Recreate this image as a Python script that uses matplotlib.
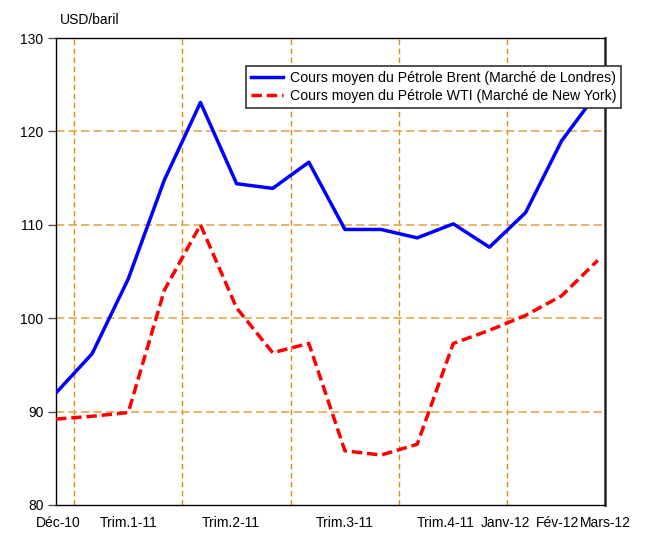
import matplotlib
matplotlib.use("Agg")
import matplotlib.pyplot as plt
from matplotlib.lines import Line2D

plt.rcParams['font.family'] = ['Liberation Sans', 'DejaVu Sans']

months = ["Déc-10", "Janv-11", "Fév-11", "Mars-11", "Avr-11", "Mai-11", "Juin-11", "Juil-11",
          "Août-11", "Sept-11", "Oct-11", "Nov-11", "Déc-11", "Janv-12", "Fév-12", "Mars-12"]
brent = [92.0, 96.2, 104.2, 114.8, 123.1, 114.4, 113.9, 116.7, 109.5, 109.5, 108.6, 110.1,
         107.6, 111.3, 119.0, 124.2]
wti = [89.2, 89.5, 89.9, 103.0, 110.0, 101.1, 96.3, 97.3, 85.8, 85.35, 86.5, 97.3,
       98.7, 100.3, 102.4, 106.2]
tick_labels = ["Déc-10", "Trim.1-11", "Trim.2-11", "Trim.3-11", "Trim.4-11", "Janv-12", "Fév-12", "Mars-12"]
tick_pos = [0.05, 2.0, 4.85, 8.0, 10.8, 12.45, 13.9, 15.2]
quarter_bounds = [0.5, 3.5, 6.5, 9.5, 12.5]
yticks = [80, 90, 100, 110, 120, 130]

fig = plt.figure(figsize=(6.58, 5.33), dpi=100)
ax = fig.add_axes([56/658, 1-505/533, (605-56)/658, (505-38)/533])

x = list(range(len(months)))
for q in quarter_bounds:
    ax.axvline(q, color='#E08A10', lw=1.0, dashes=(4, 2.5), zorder=1)
for yv in [90, 100, 110, 120]:
    ax.axhline(yv, color='#E2A850', lw=1.2, dashes=(5, 2.5), zorder=1)

ax.plot(x, brent, color='#0000FF', lw=2.5, zorder=3)
l2, = ax.plot(x, wti, color='#FF0000', lw=2.5, zorder=3)
l2.set_dashes((3.0, 1.4))

ax.set_xlim(0, 15)
ax.set_ylim(80, 130)
ax.set_yticks(yticks)
ax.set_yticklabels([str(v) for v in yticks], fontsize=10)
ax.set_xticks(tick_pos)
ax.set_xticklabels(tick_labels, fontsize=10)
ax.tick_params(axis='x', length=0, pad=8)
ax.tick_params(axis='y', length=6, width=1, color='#555555', pad=3)
for s in ['left', 'bottom', 'top']:
    ax.spines[s].set_linewidth(1.0)
    ax.spines[s].set_color('black')
ax.spines['right'].set_linewidth(1.8)
ax.spines['right'].set_color('#222222')

fig.text(60/658, 1-20/533, "USD/baril", fontsize=10, va='center', ha='left')

h1 = Line2D([], [], color='#0000FF', lw=2.5)
h2 = Line2D([], [], color='#FF0000', lw=2.5, dashes=(3.0, 1.4))
leg = fig.legend([h1, h2],
                 ["Cours moyen du Pétrole Brent (Marché de Londres)",
                  "Cours moyen du Pétrole WTI (Marché de New York)"],
                 loc='upper right', bbox_to_anchor=(621/658, 1-66/533),
                 fontsize=10.2, frameon=True, fancybox=False, framealpha=1,
                 edgecolor='#333333', borderpad=0.35, labelspacing=0.3,
                 handlelength=2.3, handletextpad=0.45, borderaxespad=0)
leg.get_frame().set_linewidth(1.2)

fig.savefig("out.png", dpi=100)
